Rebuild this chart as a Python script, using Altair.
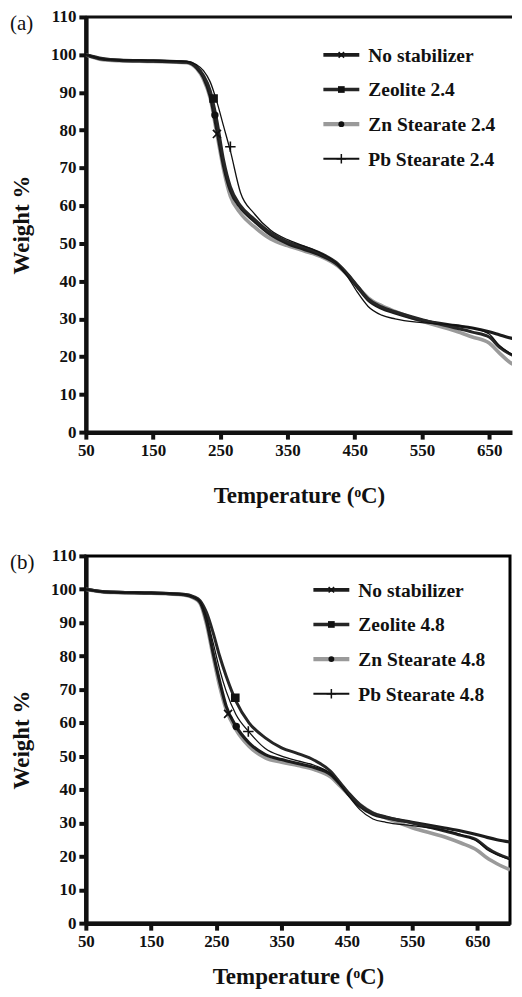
import altair as alt
import pandas as pd

# ---------------- data ----------------
TEMPS = [50, 75, 100, 150, 200, 215, 225, 235, 245, 255, 265, 280, 300, 325, 350,
         375, 400, 425, 440, 455, 470, 490, 510, 550, 600, 625, 650, 665, 680, 700]

SERIES_A = ["No stabilizer", "Zeolite 2.4", "Zn Stearate 2.4", "Pb Stearate 2.4"]
SERIES_B = ["No stabilizer", "Zeolite 4.8", "Zn Stearate 4.8", "Pb Stearate 4.8"]

a_nostab = [100, 98.8, 98.5, 98.3, 98.0, 96.5, 94.0, 89.0, 80.0, 70.5, 64.0, 59.5, 56.0, 52.3, 50.0,
            48.4, 46.8, 44.3, 41.5, 38.2, 35.0, 32.8, 31.6, 29.6, 28.2, 27.6, 26.6, 25.8, 25.0, 24.3]
a_zeolite = [100, 99.0, 98.6, 98.4, 98.1, 96.8, 94.5, 90.5, 82.5, 72.0, 65.0, 60.0, 56.5, 52.8, 50.4,
             49.0, 47.3, 44.6, 41.8, 38.5, 35.3, 33.2, 31.9, 29.8, 27.6, 26.5, 25.2, 22.5, 20.8, 19.5]
a_zn = [100, 98.7, 98.4, 98.2, 97.9, 96.3, 93.5, 88.5, 79.0, 69.5, 62.5, 58.0, 54.5, 51.2, 49.4,
        48.0, 46.5, 44.0, 41.5, 38.3, 35.6, 33.5, 32.0, 29.4, 26.8, 25.2, 23.6, 21.0, 18.6, 16.8]
a_pb = [100, 98.9, 98.6, 98.5, 98.2, 97.3, 95.8, 92.8, 87.5, 81.0, 74.5, 63.5, 58.0, 53.5, 51.0,
        49.3, 47.4, 44.4, 41.0, 36.8, 33.3, 31.0, 30.0, 29.0, 28.3, 27.6, 26.0, 23.0, 21.0, 19.2]

b_nostab = [100, 99.3, 99.1, 98.9, 98.4, 97.6, 96.2, 90.5, 81.0, 72.5, 65.0, 59.0, 54.0, 50.5, 49.0,
            47.8, 46.6, 44.5, 41.5, 38.0, 35.0, 32.6, 31.6, 30.2, 28.5, 27.6, 26.5, 25.7, 25.0, 24.3]
b_zeolite = [100, 99.3, 99.1, 98.9, 98.5, 97.8, 96.6, 93.0, 87.0, 80.0, 74.0, 66.5, 60.0, 55.5, 52.5,
             50.8, 48.8, 45.5, 42.0, 38.5, 35.5, 33.0, 31.8, 30.0, 27.6, 26.3, 24.8, 22.5, 20.8, 19.3]
b_zn = [100, 99.2, 99.0, 98.8, 98.3, 97.4, 95.8, 89.5, 80.0, 71.0, 64.0, 58.0, 53.0, 49.5, 48.2,
        47.2, 46.0, 43.8, 41.0, 38.0, 35.5, 33.0, 31.5, 28.6, 25.8, 24.0, 21.8, 19.5, 17.8, 16.0]
b_pb = [100, 99.3, 99.1, 98.9, 98.5, 97.7, 96.4, 91.5, 84.0, 76.0, 69.5, 62.5, 57.3, 52.3, 50.0,
        48.6, 47.3, 44.8, 41.5, 37.5, 34.0, 31.2, 30.2, 29.2, 27.8, 26.5, 24.5, 22.0, 20.5, 19.0]

# single marker per curve (temperature, weight)
a_mark_t = [245, 240, 242, 265]
a_mark_w = [79.0, 88.4, 84.0, 75.6]
b_mark_t = [268, 279, 280.5, 299]
b_mark_w = [62.7, 67.5, 58.9, 57.4]

X_TICKS = [50, 150, 250, 350, 450, 550, 650]
Y_TICKS = [0, 10, 20, 30, 40, 50, 60, 70, 80, 90, 100, 110]

# ---------------- styles ----------------
SERIF = "Liberation Serif"
COLORS = ["#1c1c1c", "#262626", "#9a9a9a", "#111111"]
WIDTHS = [3.2, 3.0, 3.6, 1.3]
X_PATH = "M-1,-1L1,1M-1,1L1,-1"
PLUS_PATH = "M-1,0L1,0M0,-1L0,1"
MARKS = [
    dict(shape=X_PATH, filled=False, size=65, strokeWidth=1.7, color="#111"),
    dict(shape="square", filled=True, size=75, color="#111"),
    dict(shape="circle", filled=True, size=55, color="#111"),
    dict(shape=PLUS_PATH, filled=False, size=110, strokeWidth=1.6, color="#111"),
]
LEG_MARKS = [
    dict(shape=X_PATH, filled=False, size=30, strokeWidth=1.5, color="#111"),
    dict(shape="square", filled=True, size=45, color="#111"),
    dict(shape="circle", filled=True, size=35, color="#111"),
    dict(shape=PLUS_PATH, filled=False, size=90, strokeWidth=1.5, color="#111"),
]
DRAW_ORDER = [2, 0, 1, 3]


def panel(tag, names, curves, mark_t, mark_w, width, height, xmax, leg_x, leg_y0,
          xtitle_pad, open_right):
    xscale = alt.Scale(domain=[50, xmax], nice=False, zero=False)
    yscale = alt.Scale(domain=[0, 110], nice=False)
    xaxis = alt.Axis(values=X_TICKS, title="Temperature (ᵒC)", titlePadding=xtitle_pad,
                     labelFlush=False)
    yaxis = alt.Axis(values=Y_TICKS, title="Weight %", titlePadding=17)
    xenc = alt.X("T:Q", scale=xscale, axis=xaxis)
    yenc = alt.Y("W:Q", scale=yscale, axis=yaxis)
    layers = []
    for i in DRAW_ORDER:
        df = pd.DataFrame({"T": TEMPS, "W": curves[i]})
        layers.append(
            alt.Chart(df).mark_line(color=COLORS[i], strokeWidth=WIDTHS[i],
                                    interpolate="monotone", clip=True).encode(x=xenc, y=yenc)
        )
    for i in range(4):
        df = pd.DataFrame({"T": [mark_t[i]], "W": [mark_w[i]]})
        layers.append(
            alt.Chart(df).mark_point(opacity=1, clip=True, **MARKS[i]).encode(x=xenc, y=yenc)
        )
    # legend drawn by hand
    for i in range(4):
        yy = leg_y0 + i * 34.7
        ldf = pd.DataFrame({"label": [names[i]]})
        layers.append(alt.Chart(ldf).mark_rule(color=COLORS[i], strokeWidth=WIDTHS[i] + 0.6).encode(
            x=alt.value(leg_x), x2=alt.value(leg_x + 36), y=alt.value(yy)))
        layers.append(alt.Chart(ldf).mark_point(opacity=1, **LEG_MARKS[i]).encode(
            x=alt.value(leg_x + 18), y=alt.value(yy)))
        layers.append(alt.Chart(ldf).mark_text(font=SERIF, fontWeight="bold", fontSize=19.5,
                                               align="left", baseline="middle", color="#111").encode(
            x=alt.value(leg_x + 45), y=alt.value(yy + 1), text="label:N"))
    tdf = pd.DataFrame({"tag": [tag]})
    layers.append(alt.Chart(tdf).mark_text(font=SERIF, fontSize=21, align="left",
                                           baseline="middle", color="#111").encode(
        x=alt.value(-76), y=alt.value(7), text="tag:N"))
    if open_right:
        layers.append(alt.Chart(tdf).mark_rule(color="#111", strokeWidth=3).encode(
            x=alt.value(0), x2=alt.value(width), y=alt.value(0)))
        return alt.layer(*layers).properties(
            width=width, height=height,
            view=alt.ViewBackground(stroke="transparent", strokeWidth=0))
    return alt.layer(*layers).properties(width=width, height=height)


pa = panel("(a)", SERIES_A, [a_nostab, a_zeolite, a_zn, a_pb], a_mark_t, a_mark_w,
           427, 416, 684, 238, 38, 27, True)
pb = panel("(b)", SERIES_B, [b_nostab, b_zeolite, b_zn, b_pb], b_mark_t, b_mark_w,
           425, 368, 700, 228, 34, 16, False)

chart = alt.vconcat(pa, pb, spacing=37).properties(
    padding={"left": 0, "top": -1, "right": 0, "bottom": 0},
    background="white",
).configure_view(stroke="black", strokeWidth=3).configure_axis(
    grid=False,
    labelFont=SERIF, labelFontWeight="bold", labelFontSize=17, labelColor="#111",
    titleFont=SERIF, titleFontWeight="bold", titleFontSize=23, titleColor="#111",
    domainColor="#111", domainWidth=4.5, tickColor="#111", tickWidth=4, tickSize=7,
    labelPadding=3,
)

chart.save("out.html", embed_options={"renderer": "svg", "actions": False})
